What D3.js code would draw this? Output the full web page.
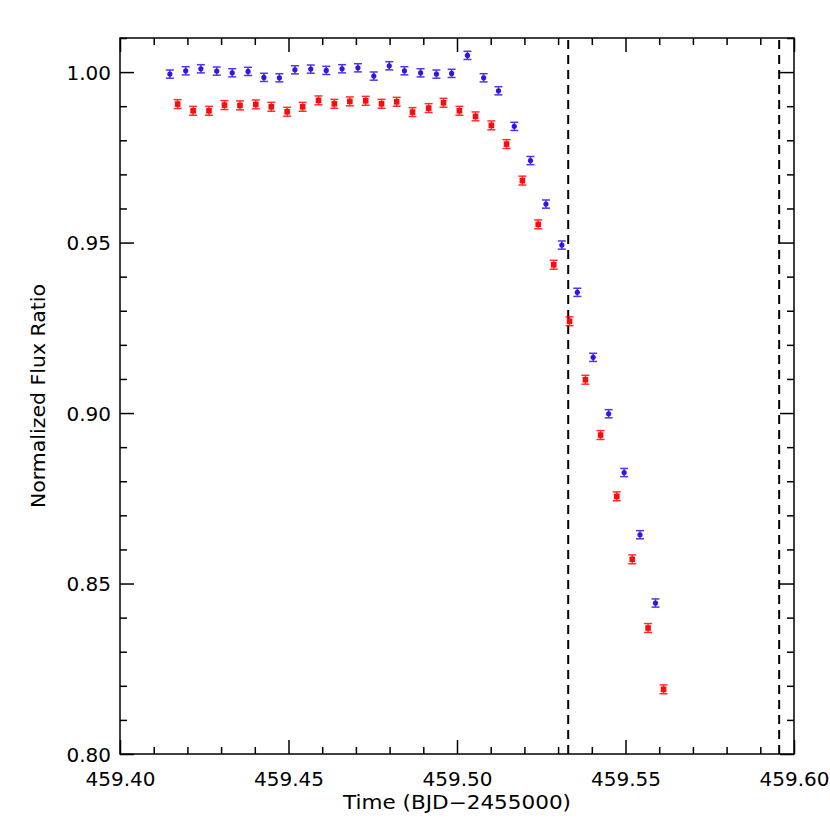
<!DOCTYPE html>
<html>
<head>
<meta charset="utf-8">
<script src="https://cdn.jsdelivr.net/npm/d3@7"></script>
<style>
  html, body { margin: 0; padding: 0; background: #fff; }
  svg { display: block; }
  text { font-family: "DejaVu Sans", sans-serif; fill: #000; }
</style>
</head>
<body>
<svg id="chart" width="830" height="830"></svg>
<script>
// ---- Data ----
const blueTime = [459.4148, 459.4195, 459.4240, 459.4287, 459.4333, 459.4380, 459.4427, 459.4473,
  459.4519, 459.4566, 459.4612, 459.4659, 459.4706, 459.4753, 459.4799, 459.4844,
  459.4892, 459.4939, 459.4984, 459.5031, 459.5079, 459.5123, 459.5170, 459.5218,
  459.5264, 459.5311, 459.5357, 459.5404, 459.5450, 459.5496, 459.5543, 459.5589];
const blueFlux = [0.99941, 1.00038, 1.00097, 1.00029, 0.99979, 1.00021, 0.99845, 0.99833,
  1.00067, 1.00088, 1.00050, 1.00097, 1.00126, 0.99883, 1.00185, 1.00038,
  0.99979, 0.99941, 0.99962, 1.00490, 0.99833, 0.99452, 0.98408, 0.97405,
  0.96129, 0.94927, 0.93540, 0.91633, 0.89980, 0.88255, 0.86431, 0.84428];
const blueErr = [0.0012, 0.0012, 0.0012, 0.0012, 0.0012, 0.0012, 0.0012, 0.0012,
  0.0012, 0.0012, 0.0012, 0.0012, 0.0012, 0.0012, 0.0012, 0.0012,
  0.0012, 0.0012, 0.0012, 0.0012, 0.0012, 0.0012, 0.0012, 0.0012,
  0.0012, 0.0012, 0.0012, 0.0012, 0.0012, 0.0012, 0.0012, 0.0012];

const redTime = [459.4171, 459.4217, 459.4264, 459.4310, 459.4356, 459.4403, 459.4449, 459.4496,
  459.4542, 459.4589, 459.4636, 459.4682, 459.4729, 459.4776, 459.4821, 459.4868,
  459.4916, 459.4960, 459.5007, 459.5055, 459.5102, 459.5147, 459.5194, 459.5241,
  459.5287, 459.5334, 459.5381, 459.5426, 459.5474, 459.5520, 459.5567, 459.5613];
const redFlux = [0.99062, 0.98865, 0.98865, 0.99032, 0.99023, 0.99053, 0.98982, 0.98836,
  0.98982, 0.99170, 0.99070, 0.99141, 0.99158, 0.99070, 0.99129, 0.98827,
  0.98944, 0.99100, 0.98865, 0.98701, 0.98437, 0.97889, 0.96818, 0.95534,
  0.94349, 0.92692, 0.90977, 0.89355, 0.87557, 0.85710, 0.83695, 0.81897];
const redErr = [0.0013, 0.0013, 0.0013, 0.0013, 0.0013, 0.0013, 0.0013, 0.0013,
  0.0013, 0.0013, 0.0013, 0.0013, 0.0013, 0.0013, 0.0013, 0.0013,
  0.0013, 0.0013, 0.0013, 0.0013, 0.0013, 0.0013, 0.0013, 0.0013,
  0.0013, 0.0013, 0.0013, 0.0013, 0.0013, 0.0013, 0.0013, 0.0013];

const dashedTimes = [459.5330, 459.5956];

const xDomain = [459.40, 459.60];
const yDomain = [0.80, 1.01];
const xMajorTicks = [459.40, 459.45, 459.50, 459.55, 459.60];
const xTickLabels = ["459.40", "459.45", "459.50", "459.55", "459.60"];
const xMinorTicks = [459.41, 459.42, 459.43, 459.44, 459.46, 459.47, 459.48, 459.49,
  459.51, 459.52, 459.53, 459.54, 459.56, 459.57, 459.58, 459.59];
const yMajorTicks = [0.80, 0.85, 0.90, 0.95, 1.00];
const yTickLabels = ["0.80", "0.85", "0.90", "0.95", "1.00"];
const yMinorTicks = [0.81, 0.82, 0.83, 0.84, 0.86, 0.87, 0.88, 0.89, 0.91, 0.92, 0.93, 0.94,
  0.96, 0.97, 0.98, 0.99, 1.01];

const xTitle = "Time (BJD\u22122455000)";
const yTitle = "Normalized Flux Ratio";

// ---- Layout ----
const L = 120, R = 794, T = 38, B = 754;
const blueColor = "#3214e6", redColor = "#ff0a0a";

const svg = d3.select("#chart");
const x = d3.scaleLinear().domain(xDomain).range([L, R]);
const y = d3.scaleLinear().domain(yDomain).range([B, T]);

// Axes (ticks inward, mirrored on all four sides)
const majLen = 14, minLen = 7;
function addAxis(makeAxis, transform, majors, minors, labels) {
  const gMin = svg.append("g").attr("transform", transform)
    .call(makeAxis().tickValues(minors).tickSize(-minLen).tickFormat(""));
  const gMaj = svg.append("g").attr("transform", transform)
    .call(makeAxis().tickValues(majors).tickSize(-majLen).tickPadding(majLen + 10)
      .tickFormat(labels ? (d, i) => labels[i] : ""));
  [gMin, gMaj].forEach(g => {
    g.selectAll(".domain").remove();
    g.selectAll("line").attr("stroke", "#000").attr("stroke-width", 1.5);
  });
  gMaj.selectAll("text").style("font-size", "20px").attr("fill", "#000");
  return gMaj;
}
const gx = addAxis(() => d3.axisBottom(x), `translate(0,${B})`, xMajorTicks, xMinorTicks, xTickLabels);
gx.selectAll("text").attr("dy", null).attr("y", 32);
addAxis(() => d3.axisTop(x), `translate(0,${T})`, xMajorTicks, xMinorTicks, null);
const gy = addAxis(() => d3.axisLeft(y), `translate(${L},0)`, yMajorTicks, yMinorTicks, yTickLabels);
gy.selectAll("text").attr("x", -9).attr("dy", "0.36em");
addAxis(() => d3.axisRight(y), `translate(${R},0)`, yMajorTicks, yMinorTicks, null);

// Frame
svg.append("rect").attr("x", L).attr("y", T).attr("width", R - L).attr("height", B - T)
  .attr("fill", "none").attr("stroke", "#000").attr("stroke-width", 1.5);

// Dashed vertical lines
svg.append("g").selectAll("line").data(dashedTimes).join("line")
  .attr("x1", d => x(d)).attr("x2", d => x(d))
  .attr("y1", T + 2).attr("y2", B)
  .attr("stroke", "#000").attr("stroke-width", 2)
  .attr("stroke-dasharray", "9,6");

// Series
function drawSeries(times, flux, err, color, shape) {
  const data = times.map((t, i) => ({ t, f: flux[i], e: err[i] }));
  const g = svg.append("g");
  const cap = 4;
  const eb = g.selectAll("g.eb").data(data).join("g").attr("class", "eb")
    .attr("stroke", color).attr("stroke-width", 1.5).attr("opacity", 0.85);
  eb.append("line").attr("x1", d => x(d.t)).attr("x2", d => x(d.t))
    .attr("y1", d => y(d.f - d.e)).attr("y2", d => y(d.f + d.e));
  eb.append("line").attr("x1", d => x(d.t) - cap).attr("x2", d => x(d.t) + cap)
    .attr("y1", d => y(d.f - d.e)).attr("y2", d => y(d.f - d.e));
  eb.append("line").attr("x1", d => x(d.t) - cap).attr("x2", d => x(d.t) + cap)
    .attr("y1", d => y(d.f + d.e)).attr("y2", d => y(d.f + d.e));
  if (shape === "circle") {
    g.selectAll("circle").data(data).join("circle")
      .attr("cx", d => x(d.t)).attr("cy", d => y(d.f)).attr("r", 2.6).attr("fill", color);
  } else {
    g.selectAll("rect.m").data(data).join("rect").attr("class", "m")
      .attr("x", d => x(d.t) - 2.8).attr("y", d => y(d.f) - 2.8)
      .attr("width", 5.6).attr("height", 5.6).attr("fill", color);
  }
}
drawSeries(blueTime, blueFlux, blueErr, blueColor, "circle");
drawSeries(redTime, redFlux, redErr, redColor, "square");

// Axis titles
svg.append("text").attr("x", (L + R) / 2).attr("y", 809)
  .attr("text-anchor", "middle").style("font-size", "19px")
  .attr("textLength", 228).attr("lengthAdjust", "spacingAndGlyphs")
  .text(xTitle);
svg.append("text").attr("transform", `translate(45,${(T + B) / 2}) rotate(-90)`)
  .attr("text-anchor", "middle").style("font-size", "19px")
  .attr("textLength", 224).attr("lengthAdjust", "spacingAndGlyphs")
  .text(yTitle);
</script>
</body>
</html>
